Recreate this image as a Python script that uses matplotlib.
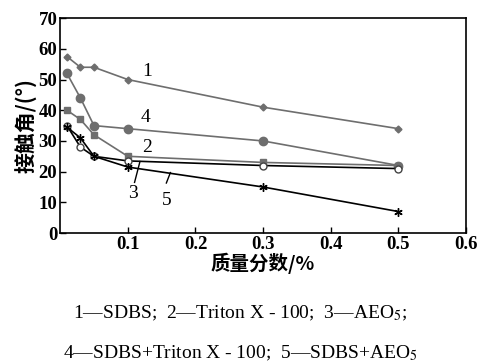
import numpy as np
import matplotlib.pyplot as plt

plt.rcParams['font.family'] = ['Liberation Serif', 'Noto Sans CJK SC']
plt.rcParams['mathtext.fontset'] = 'stix'

# 数据: 质量分数 (%) 与接触角 (°)
conc = [0.01, 0.03, 0.05, 0.1, 0.3, 0.5]
sdbs = [57.5, 54, 54, 50, 41, 34]
triton = [40, 37, 32, 25, 23, 22]
aeo5 = [35, 28, 25, 23.5, 22, 21]
sdbs_triton = [52, 44, 35, 34, 30, 22]
sdbs_aeo5 = [34.5, 31, 25, 21.5, 15, 7]

xticks = [0.1, 0.2, 0.3, 0.4, 0.5, 0.6]
yticks = [0, 10, 20, 30, 40, 50, 60, 70]

gray = '#6e6e6e'

fig = plt.figure(figsize=(4.81, 3.63), dpi=100)
ax = fig.add_axes([0.125, 0.358, 0.844, 0.592])

ax.plot(conc, sdbs, color=gray, lw=1.2, marker='D', ms=3.5)
ax.plot(conc, sdbs_triton, color=gray, lw=1.2, marker='o', ms=6)
ax.plot(conc, triton, color=gray, lw=1.2, marker='s', ms=5)
ax.plot(conc, aeo5, color='black', lw=1.2, marker='o', ms=5,
        mfc='white', mec='#444444')
ax.plot(conc, sdbs_aeo5, color='black', lw=1.2, marker=(6, 2, 0), ms=6)

# 曲线编号
lab = dict(fontsize=14, ha='center', va='center')
ax.text(0.128, 52.5, '1', **lab)
ax.text(0.126, 37.5, '4', **lab)
ax.text(0.128, 28, '2', **lab)
ax.text(0.107, 13, '3', **lab)
ax.text(0.157, 10.5, '5', **lab)
ax.plot([0.110, 0.118], [16.5, 23.3], color='black', lw=1)
ax.plot([0.157, 0.163], [16.3, 19.7], color='black', lw=1)

ax.set_xlim(0, 0.6)
ax.set_ylim(0, 70)
ax.set_xticks(xticks)
ax.set_xticklabels([str(v) for v in xticks])
ax.set_yticks(yticks)
ax.tick_params(direction='in', labelsize=13.5, length=4, width=1, pad=2)
for t in ax.get_xticklabels() + ax.get_yticklabels():
    t.set_fontweight('bold')
for s in ax.spines.values():
    s.set_linewidth(1.2)

ax.set_ylabel('接触角/(°)', fontsize=15, fontweight='bold',
              family=['Noto Sans CJK SC', 'DejaVu Sans'], labelpad=1)
ax.set_xlabel('质量分数/%', fontsize=14, fontweight='bold',
              family=['Noto Sans CJK SC', 'DejaVu Sans'], labelpad=0)

fig.text(0.5, 0.137, '1—SDBS;  2—Triton X - 100;  3—AEO$_5$;',
         ha='center', va='center', fontsize=14)
fig.text(0.5, 0.027, '4—SDBS+Triton X - 100;  5—SDBS+AEO$_5$',
         ha='center', va='center', fontsize=14)

fig.savefig('out.png', dpi=100)
